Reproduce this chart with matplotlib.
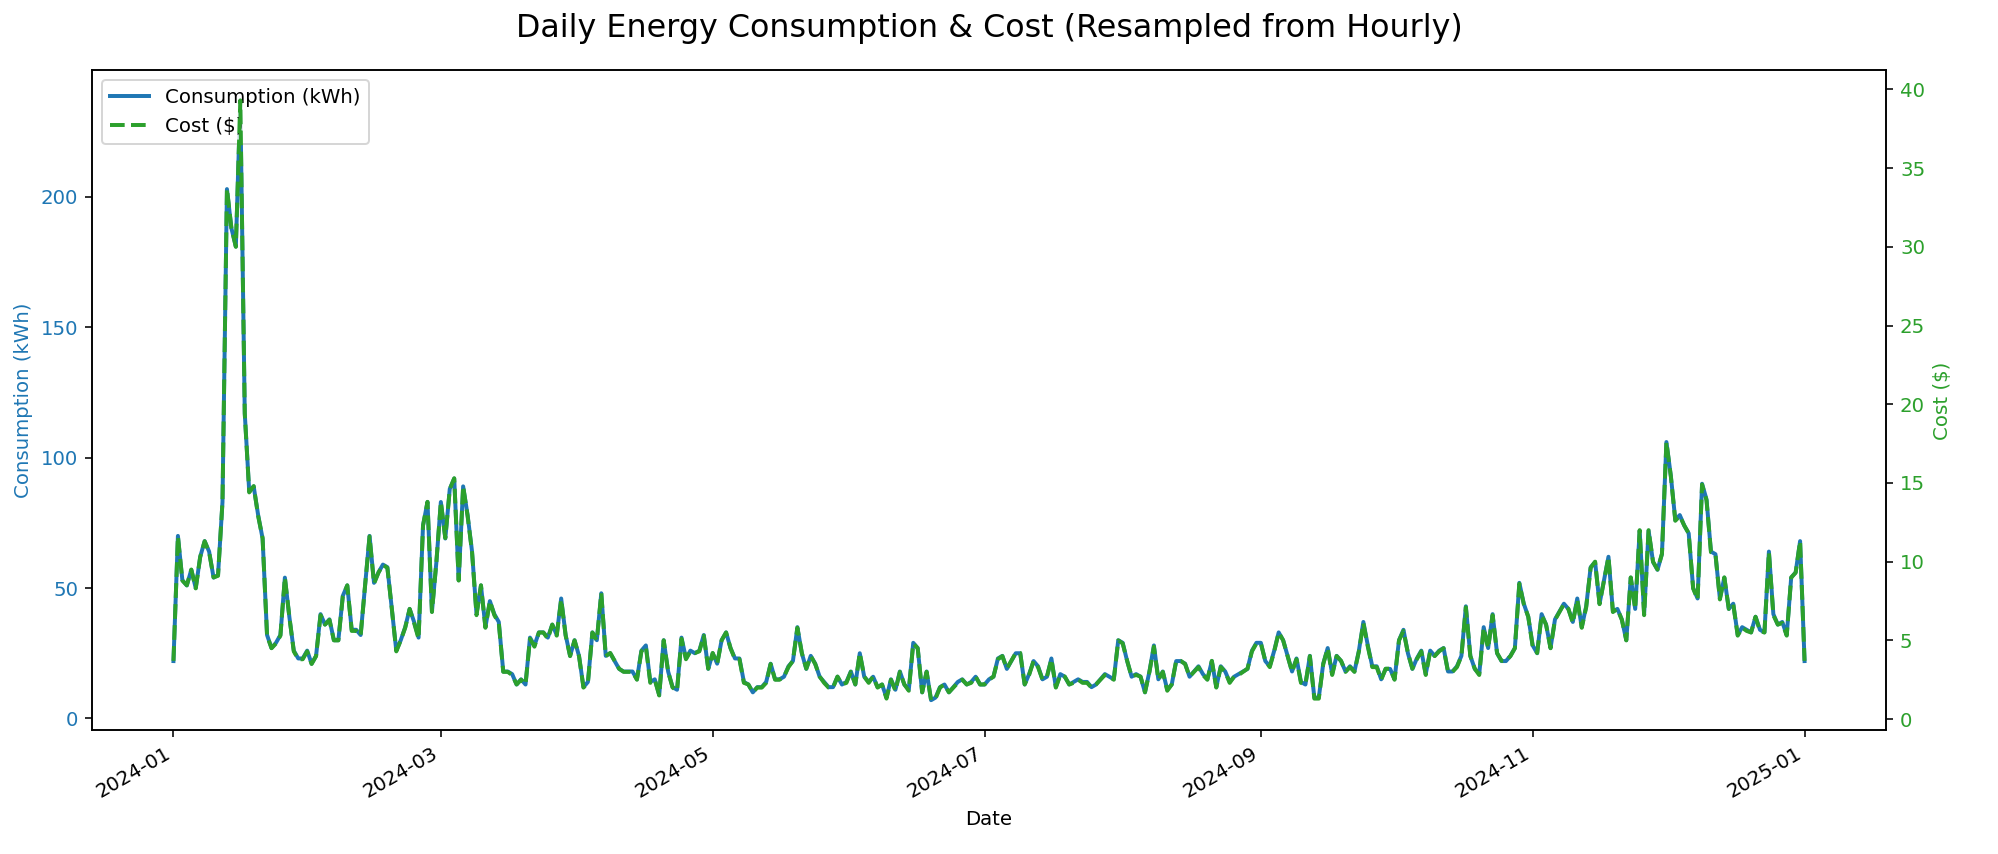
import matplotlib
matplotlib.use("Agg")
import matplotlib.pyplot as plt
import matplotlib.dates as mdates
import pandas as pd

start_date = "2024-01-01"
end_date = "2025-01-01"

consumption_kwh = [
    22, 70, 53, 51, 57, 50, 62, 68, 64, 54, 55, 83, 203, 188, 181, 237, 117, 87, 89, 78,
    69, 32, 27, 29, 32, 54, 39, 26, 23, 23, 26, 21, 24, 40, 36, 38, 30, 30, 47, 51,
    34, 34, 32, 51, 70, 52, 56, 59, 58, 42, 26, 30, 35, 42, 37, 31, 74, 83, 41, 60,
    83, 69, 88, 92, 53, 89, 78, 64, 40, 51, 35, 45, 40, 37, 18, 18, 17, 13, 15, 13,
    31, 28, 33, 33, 31, 36, 32, 46, 32, 24, 30, 24, 12, 14,
    # Apr-May
    33, 30, 48, 24, 25, 22, 19, 18, 18, 18, 15, 26, 28, 14, 15, 9, 30, 18, 12, 11,
    31, 23, 26, 25, 26, 32, 19, 25, 21, 30, 33, 27, 23, 23, 14, 13, 10, 12, 12, 14,
    21, 15, 15, 16,
    # May-Jun
    20, 22, 35, 25, 19, 24, 21, 16, 14, 12, 12, 16, 13, 14, 18, 13, 25, 16, 14, 16,
    12, 13, 8, 15, 11, 18, 13, 11, 29, 27, 10, 18, 7, 8, 12, 13, 10, 12, 14, 15,
    13, 14, 16, 13,
    # Jul-Aug
    13, 15, 16, 23, 24, 19, 22, 25, 25, 13, 17, 22, 20, 15, 16, 23, 12, 17, 16, 13,
    14, 15, 14, 14, 12, 13, 15, 17, 16, 15, 30, 29, 22, 16, 17, 16, 10, 18, 28, 15,
    18, 11, 13, 22, 22, 21, 16, 18, 20, 17, 15, 22, 12, 20, 18, 14, 16, 17, 18, 19,
    26,
    # Sep-Oct
    29, 29, 22, 20, 26, 33, 30, 24, 18, 23, 14, 13, 24, 8, 8, 21, 27, 17, 24, 22,
    18, 20, 18, 26, 37, 28, 20, 20, 15, 19, 19, 15, 30, 34, 25, 19, 23, 26, 17, 26,
    24, 26, 27, 18, 18, 20, 24, 43, 24, 19, 17, 35, 27, 40, 25, 22, 22, 24, 27, 52,
    44, 39,
    # Nov-Dec
    28, 25, 40, 36, 27, 38, 41, 44, 42, 37, 46, 35, 43, 58, 60, 44, 53, 62, 41, 42,
    38, 30, 54, 42, 72, 40, 72, 60, 57, 63, 106, 93, 76, 78, 74, 71, 50, 46, 90, 84,
    64, 63, 46, 54, 42, 44, 32, 35, 34, 33, 39, 34, 33, 64, 40, 36, 37, 32, 54, 56,
    68, 22,
]

cost_usd = [
    3.7, 11.6, 8.8, 8.5, 9.5, 8.3, 10.3, 11.3, 10.6, 9.0, 9.1, 13.8, 33.7, 31.2, 30.0, 39.3, 19.4, 14.4, 14.8, 12.9,
    11.5, 5.3, 4.5, 4.8, 5.3, 9.0, 6.5, 4.3, 3.8, 3.8, 4.3, 3.5, 4.0, 6.6, 6.0, 6.3, 5.0, 5.0, 7.8, 8.5,
    5.6, 5.6, 5.3, 8.5, 11.6, 8.6, 9.3, 9.8, 9.6, 7.0, 4.3, 5.0, 5.8, 7.0, 6.1, 5.1, 12.3, 13.8, 6.8, 10.0,
    13.8, 11.5, 14.6, 15.3, 8.8, 14.8, 12.9, 10.6, 6.6, 8.5, 5.8, 7.5, 6.6, 6.1, 3.0, 3.0, 2.8, 2.2, 2.5, 2.2,
    5.1, 4.6, 5.5, 5.5, 5.1, 6.0, 5.3, 7.6, 5.3, 4.0, 5.0, 4.0, 2.0, 2.3,
    5.5, 5.0, 8.0, 4.0, 4.2, 3.7, 3.2, 3.0, 3.0, 3.0, 2.5, 4.3, 4.6, 2.3, 2.5, 1.5, 5.0, 3.0, 2.0, 1.8,
    5.1, 3.8, 4.3, 4.2, 4.3, 5.3, 3.2, 4.2, 3.5, 5.0, 5.5, 4.5, 3.8, 3.8, 2.3, 2.2, 1.7, 2.0, 2.0, 2.3,
    3.5, 2.5, 2.5, 2.7,
    3.3, 3.7, 5.8, 4.2, 3.2, 4.0, 3.5, 2.7, 2.3, 2.0, 2.0, 2.7, 2.2, 2.3, 3.0, 2.2, 4.2, 2.7, 2.3, 2.7,
    2.0, 2.2, 1.3, 2.5, 1.8, 3.0, 2.2, 1.8, 4.8, 4.5, 1.7, 3.0, 1.2, 1.3, 2.0, 2.2, 1.7, 2.0, 2.3, 2.5,
    2.2, 2.3, 2.7, 2.2,
    2.2, 2.5, 2.7, 3.8, 4.0, 3.2, 3.7, 4.2, 4.2, 2.2, 2.8, 3.7, 3.3, 2.5, 2.7, 3.8, 2.0, 2.8, 2.7, 2.2,
    2.3, 2.5, 2.3, 2.3, 2.0, 2.2, 2.5, 2.8, 2.7, 2.5, 5.0, 4.8, 3.7, 2.7, 2.8, 2.7, 1.7, 3.0, 4.6, 2.5,
    3.0, 1.8, 2.2, 3.7, 3.7, 3.5, 2.7, 3.0, 3.3, 2.8, 2.5, 3.7, 2.0, 3.3, 3.0, 2.3, 2.7, 2.8, 3.0, 3.2,
    4.3,
    4.8, 4.8, 3.7, 3.3, 4.3, 5.5, 5.0, 4.0, 3.0, 3.8, 2.3, 2.2, 4.0, 1.3, 1.3, 3.5, 4.5, 2.8, 4.0, 3.7,
    3.0, 3.3, 3.0, 4.3, 6.1, 4.6, 3.3, 3.3, 2.5, 3.2, 3.2, 2.5, 5.0, 5.6, 4.2, 3.2, 3.8, 4.3, 2.8, 4.3,
    4.0, 4.3, 4.5, 3.0, 3.0, 3.3, 4.0, 7.1, 4.0, 3.2, 2.8, 5.8, 4.5, 6.6, 4.2, 3.7, 3.7, 4.0, 4.5, 8.6,
    7.3, 6.5,
    4.6, 4.2, 6.6, 6.0, 4.5, 6.3, 6.8, 7.3, 7.0, 6.1, 7.6, 5.8, 7.1, 9.6, 10.0, 7.3, 8.8, 10.3, 6.8, 7.0,
    6.3, 5.0, 9.0, 7.0, 12.0, 6.6, 12.0, 10.0, 9.5, 10.5, 17.6, 15.4, 12.6, 12.9, 12.3, 11.8, 8.3, 7.6, 14.9, 13.9,
    10.6, 10.5, 7.6, 9.0, 7.0, 7.3, 5.3, 5.8, 5.6, 5.5, 6.5, 5.6, 5.5, 10.6, 6.6, 6.0, 6.1, 5.3, 9.0, 9.3,
    11.3, 3.7,
]

tick_months = [1, 3, 5, 7, 9, 11]

dates = pd.date_range(start_date, end_date, freq="D")
n = min(len(dates), len(consumption_kwh), len(cost_usd))
dates = dates[:n]

DPI = 142.7
fig = plt.figure(figsize=(1998 / DPI, 854 / DPI), dpi=DPI)
ax1 = fig.add_axes([0.046, 0.145, 0.898, 0.7725])
ax2 = ax1.twinx()

l1, = ax1.plot(dates, consumption_kwh[:n], color="tab:blue", lw=2, label="Consumption (kWh)")
l2, = ax2.plot(dates, cost_usd[:n], color="tab:green", lw=2, ls="--", label="Cost ($)")

ax1.set_xlabel("Date")
ax1.set_ylabel("Consumption (kWh)", color="tab:blue")
ax2.set_ylabel("Cost ($)", color="tab:green")
ax1.tick_params(axis="y", labelcolor="tab:blue")
ax2.tick_params(axis="y", labelcolor="tab:green")

ax1.xaxis.set_major_locator(mdates.MonthLocator(bymonth=tick_months))
ax1.xaxis.set_major_formatter(mdates.DateFormatter("%Y-%m"))
for lab in ax1.get_xticklabels():
    lab.set_rotation(30)
    lab.set_ha("right")

ax1.legend(handles=[l1, l2], loc="upper left")
ax1.set_title("Daily Energy Consumption & Cost (Resampled from Hourly)", fontsize=16, pad=17)

fig.savefig("out.png", dpi=DPI)
